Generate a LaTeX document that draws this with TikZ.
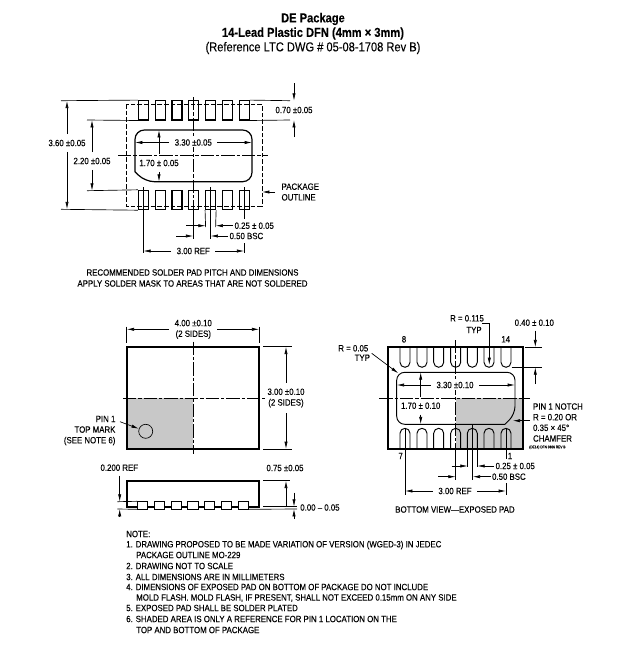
\documentclass[tikz,border=0pt]{standalone}
\usepackage{fontspec}
\setmainfont[FakeStretch=0.86,FakeBold=0.12]{Liberation Sans}
\usetikzlibrary{arrows.meta}
\definecolor{markgray}{RGB}{200,200,200}
\begin{document}
\begin{tikzpicture}[x=0.75pt,y=-0.75pt]
		\tikzset{lab/.style = {font=\fontsize{6.85}{8}\selectfont, inner sep=1pt, align=center}}
		\tikzset{title/.style = {font=\fontsize{9.7}{11}\selectfont, inner sep=0pt}}
		\tikzset{notetext/.style = {font=\fontsize{6.85}{8}\selectfont, inner sep=0pt, anchor=west}}
		\tikzset{thin line/.style = {line width=0.5pt}}
		\tikzset{dim/.style = {line width=0.5pt, -{Latex[length=5.5pt,width=2.4pt]}}}
		\tikzset{dimlab/.style = {dim, shorten <=3pt}}
		\tikzset{center line/.style = {line width=0.5pt, dash pattern=on 10pt off 1.5pt on 2.5pt off 1.5pt}}
		\tikzset{outline/.style = {line width=1.5pt}}
		\tikzset{padbox/.style = {draw, line width=0.8pt, minimum width=7.5pt, minimum height=14.5pt, inner sep=0pt}}
		\tikzset{sidepad/.style = {draw, line width=0.6pt, fill=white, minimum width=7.6pt, minimum height=5.4pt, inner sep=0pt}}
		\tikzset{leadup/.pic = {\draw[line width=0.7pt] (-5,0) -- (-5,-15.7) arc[start angle=180,end angle=360,radius=5] -- (5,0);}}
		\tikzset{leaddown/.pic = {\draw[line width=0.7pt] (-5,0) -- (-5,15) arc[start angle=180,end angle=0,radius=5] -- (5,0);}}

		\useasboundingbox (0,0) rectangle (620,672);

		% heading
		\node[title] (head_1) at (313,19) {\textbf{DE Package}};
		\node[title] (head_2) at (313,33.5) {\textbf{14-Lead Plastic DFN (4mm × 3mm)}};
		\node[title] (head_3) at (313,48) {(Reference LTC DWG \# 05-08-1708 Rev B)};

		% solder pad pattern
		\draw[thin line, dash pattern=on 3.5pt off 1.5pt] (126,104) rectangle (262,206);

		\node[padbox] (T_1) at (143.3,110.3) {};
		\node[padbox] (T_2) at (160.1,110.3) {};
		\node[padbox] (T_3) at (177,110.3) {};
		\node[padbox] (T_4) at (193.8,110.3) {};
		\node[padbox] (T_5) at (210.6,110.3) {};
		\node[padbox] (T_6) at (227.5,110.3) {};
		\node[padbox] (T_7) at (244.3,110.3) {};

		\node[padbox] (U_1) at (143.3,200) {};
		\node[padbox] (U_2) at (160.1,200) {};
		\node[padbox] (U_3) at (177,200) {};
		\node[padbox] (U_4) at (193.8,200) {};
		\node[padbox] (U_5) at (210.6,200) {};
		\node[padbox] (U_6) at (227.5,200) {};
		\node[padbox] (U_7) at (244.3,200) {};

		\draw[line width=0.9pt] (135,171.7) [rounded corners=7pt] -- (135,130) -- (252,130) -- (252,181.7) -- (145,181.7) [sharp corners] -- cycle;
		\draw[center line] (193.3,97) -- (193.3,213);
		\draw[center line] (118,155) -- (268,155);

		\draw[thin line] (61,100.7) -- (T_1.north west);
		\draw[thin line] (61,209.3) -- (U_1.south west);
		\draw[thin line] (87,120) -- (T_1.south west);
		\draw[thin line] (87,190.7) -- (U_1.north west);
		\draw[thin line] (T_7.north east) -- (290,100.7);
		\draw[thin line] (T_7.south east) -- (290,120);

		\node[lab] (D_360) at (67,143) {3.60 ±0.05};
		\draw[dimlab] (D_360) -- (67,100.7);
		\draw[dimlab] (D_360) -- (67,209.3);
		\node[lab] (D_220) at (92,161) {2.20 ±0.05};
		\draw[dimlab] (D_220) -- (92,120);
		\draw[dimlab] (D_220) -- (92,190.7);
		\node[lab] (D_070) at (294,110) {0.70 ±0.05};
		\draw[dim] (294,83) -- (294,100.7);
		\draw[dim] (294,137) -- (294,120);
		\node[lab, fill=white] (D_330) at (193.3,142.5) {3.30 ±0.05};
		\draw[dimlab] (D_330) -- (135,142.5);
		\draw[dimlab] (D_330) -- (252,142.5);
		\node[lab] (D_170) at (159,163) {1.70 ± 0.05};
		\draw[dimlab] (D_170) -- (159,130);
		\draw[dimlab] (D_170) -- (159,181.7);

		\node[lab, anchor=west, align=left] (pkg) at (280,192) {PACKAGE\\OUTLINE};
		\draw[dim] (275,192) -- (262,192);

		\draw[thin line] (143.3,187) -- (143.3,253);
		\draw[thin line] (244.3,187) -- (244.3,219);
		\draw[thin line] (244.3,243) -- (244.3,253);
		\node[lab] (D_300) at (193.3,251) {3.00 REF};
		\draw[dimlab] (D_300) -- (143.3,251);
		\draw[dimlab] (D_300) -- (244.3,251);

		\draw[thin line] (U_5.south west) -- (205.6,227);
		\draw[thin line] (U_5.south east) -- (215.6,227);
		\draw[dim] (186,225.7) -- (205.6,225.7);
		\node[lab, anchor=west] (D_025) at (233,225.7) {0.25 ± 0.05};
		\draw[dim] (D_025) -- (215.6,225.7);

		\draw[thin line] (210.6,187) -- (210.6,239);
		\draw[thin line] (193.3,213) -- (193.3,239);
		\draw[dim] (176,236) -- (193.3,236);
		\node[lab, anchor=west] (D_050) at (228,236) {0.50 BSC};
		\draw[dim] (D_050) -- (210.6,236);

		\node[lab] (rec_1) at (192.5,272.5) {RECOMMENDED SOLDER PAD PITCH AND DIMENSIONS};
		\node[lab] (rec_2) at (192.5,283.5) {APPLY SOLDER MASK TO AREAS THAT ARE NOT SOLDERED};

		% top view
		\fill[markgray] (126.7,398.3) rectangle (193.3,449);
		\node[draw, circle, thin line, minimum size=10.5pt, inner sep=0pt] (mark) at (145.7,431.3) {};
		\draw[outline] (126.7,346.7) rectangle (259.3,449);
		\draw[center line] (193.3,341.7) -- (193.3,454);
		\draw[center line] (123,398.3) -- (265,398.3);

		\draw[thin line] (126.7,326.7) -- (126.7,343);
		\draw[thin line] (259.3,326.7) -- (259.3,343);
		\node[lab] (D_400) at (193.3,329.3) {4.00 ±0.10\\(2 SIDES)};
		\draw[dimlab] (D_400) -- (126.7,329.3);
		\draw[dimlab] (D_400) -- (259.3,329.3);
		\draw[thin line] (263,346.7) -- (292,346.7);
		\draw[thin line] (263,449) -- (292,449);
		\node[lab] (D_3) at (286,398) {3.00 ±0.10\\(2 SIDES)};
		\draw[dimlab] (D_3) -- (286,346.7);
		\draw[dimlab] (D_3) -- (286,449);

		\node[lab, anchor=east, align=right] (pin) at (117,430.5) {PIN 1\\TOP MARK\\(SEE NOTE 6)};
		\draw[dim] (120,421.7) -- (mark);

		% side view
		\draw[outline] (126.7,506.7) -- (126.7,480.7) -- (259.3,480.7) -- (259.3,506.7) -- cycle;
		\node[sidepad] (S_1) at (142.5,505.3) {};
		\node[sidepad] (S_2) at (159.3,505.3) {};
		\node[sidepad] (S_3) at (176.1,505.3) {};
		\node[sidepad] (S_4) at (192.9,505.3) {};
		\node[sidepad] (S_5) at (209.7,505.3) {};
		\node[sidepad] (S_6) at (226.5,505.3) {};
		\node[sidepad] (S_7) at (243.3,505.3) {};

		\node[lab] (D_200) at (119.3,467.7) {0.200 REF};
		\draw[thin line] (117.3,501.7) -- (S_1.north west);
		\draw[thin line] (117.3,509) -- (S_1.south west);
		\draw[dim] (119.7,475.7) -- (119.7,501.7);
		\draw[dim] (119.7,517) -- (119.7,509);

		\node[lab] (D_075) at (285,468) {0.75 ±0.05};
		\draw[thin line] (263,480.7) -- (290,480.7);
		\draw[thin line] (263,506.7) -- (297,506.7);
		\draw[thin line] (S_7.south east) -- (297,509);
		\draw[dim, {Latex[length=5.5pt,width=2.4pt]}-] (286,480.7) -- (286,506.7);
		\node[lab, anchor=west] (D_005) at (298.7,507.5) {0.00 – 0.05};
		\draw[dim] (294,492.7) -- (294,506.7);
		\draw[dim] (294,519) -- (294,509);

		% bottom view
		\fill[markgray] (455.7,398.3) rectangle (523.3,449);
		\pic at (405,449) {leadup};
		\pic at (422,449) {leadup};
		\pic at (438.7,449) {leadup};
		\pic at (455.7,449) {leadup};
		\pic at (472.3,449) {leadup};
		\pic at (489,449) {leadup};
		\pic at (506,449) {leadup};
		\pic at (405,347.3) {leaddown};
		\pic at (422,347.3) {leaddown};
		\pic at (438.7,347.3) {leaddown};
		\pic at (455.7,347.3) {leaddown};
		\pic at (472.3,347.3) {leaddown};
		\pic at (489,347.3) {leaddown};
		\pic at (506,347.3) {leaddown};
		\draw[line width=0.7pt] (505,424.3) [rounded corners=6pt] -- (396.7,424.3) -- (396.7,372.3) -- (515,372.3) -- (515,414.3) [sharp corners] -- cycle;
		\draw[outline] (388.3,347.3) rectangle (523.3,449);
		\draw[center line] (455.7,340) -- (455.7,453);
		\draw[center line] (379.3,398.3) -- (530,398.3);

		\node[lab] (pin_8) at (404,339.3) {8};
		\node[lab] (pin_14) at (505.7,339.3) {14};
		\node[lab] (pin_7) at (400.7,456) {7};
		\node[lab] (pin_1) at (510,456) {1};

		\node[lab] (R_115) at (467,318.3) {R = 0.115};
		\node[lab] (R_typ) at (474,330) {TYP};
		\draw[dim] (482,323.3) -- (489.3,323.3) -- (489.3,365);

		\node[lab] (D_040) at (534.3,322.7) {0.40 ± 0.10};
		\draw[thin line] (525,347.3) -- (541.7,347.3);
		\draw[thin line] (511.7,367.3) -- (541.7,367.3);
		\draw[dim] (535.3,330.7) -- (535.3,347.3);
		\draw[dim] (535.3,384) -- (535.3,367.3);

		\node[lab] (R_05) at (353.3,348.3) {R = 0.05};
		\node[lab] (R_05typ) at (362.3,357.7) {TYP};
		\draw[dim] (371.7,353.3) -- (398.3,373.3);

		\node[lab, fill=white] (E_330) at (455,385) {3.30 ±0.10};
		\draw[dimlab] (E_330) -- (396.7,385);
		\draw[dimlab] (E_330) -- (515,385);
		\node[lab] (E_170) at (420.7,405.7) {1.70 ± 0.10};
		\draw[dimlab] (E_170) -- (420.7,372.3);
		\draw[dimlab] (E_170) -- (420.7,424.3);

		\node[lab, anchor=west, align=left] (notch) at (531.5,422.5) {PIN 1 NOTCH\\R = 0.20 OR\\0.35 × 45°\\CHAMFER};
		\draw[dim] (530,420.7) -- (512.7,420.7);
		\node[font=\fontsize{2.8}{3}\selectfont, inner sep=0pt, anchor=west] (rev) at (529,447.3) {(DE14) DFN 0806 REV B};

		\draw[thin line] (405,428) -- (405,495);
		\draw[thin line] (506,428) -- (506,459);
		\draw[thin line] (506,483) -- (506,495);
		\node[lab] (E_300) at (455,491) {3.00 REF};
		\draw[dimlab] (E_300) -- (405,491);
		\draw[dimlab] (E_300) -- (506,491);

		\draw[thin line] (467.7,449) -- (467.7,467);
		\draw[thin line] (477.3,449) -- (477.3,467);
		\draw[dim] (451.7,466) -- (467.7,466);
		\node[lab, anchor=west] (E_025) at (494,466) {0.25 ± 0.05};
		\draw[dim] (E_025) -- (477.3,466);

		\draw[thin line] (472.7,424.3) -- (472.7,480);
		\draw[thin line] (455.7,453) -- (455.7,480);
		\draw[dim] (438.3,476.7) -- (455.7,476.7);
		\node[lab, anchor=west] (E_050) at (490.5,476.7) {0.50 BSC};
		\draw[dim] (E_050) -- (472.7,476.7);

		\node[lab] (bottom) at (455,509.5) {BOTTOM VIEW—EXPOSED PAD};

		% notes
		\node[notetext] (N_0) at (126,534) {NOTE:};
		\node[notetext] (N_1) at (126,545) {1. DRAWING PROPOSED TO BE MADE VARIATION OF VERSION (WGED-3) IN JEDEC};
		\node[notetext] (N_1b) at (136,555) {PACKAGE OUTLINE MO-229};
		\node[notetext] (N_2) at (126,566) {2. DRAWING NOT TO SCALE};
		\node[notetext] (N_3) at (126,577) {3. ALL DIMENSIONS ARE IN MILLIMETERS};
		\node[notetext] (N_4) at (126,587) {4. DIMENSIONS OF EXPOSED PAD ON BOTTOM OF PACKAGE DO NOT INCLUDE};
		\node[notetext] (N_4b) at (136,598) {MOLD FLASH. MOLD FLASH, IF PRESENT, SHALL NOT EXCEED 0.15mm ON ANY SIDE};
		\node[notetext] (N_5) at (126,608) {5. EXPOSED PAD SHALL BE SOLDER PLATED};
		\node[notetext] (N_6) at (126,619) {6. SHADED AREA IS ONLY A REFERENCE FOR PIN 1 LOCATION ON THE};
		\node[notetext] (N_6b) at (136,630) {TOP AND BOTTOM OF PACKAGE};
\end{tikzpicture}
\end{document}
